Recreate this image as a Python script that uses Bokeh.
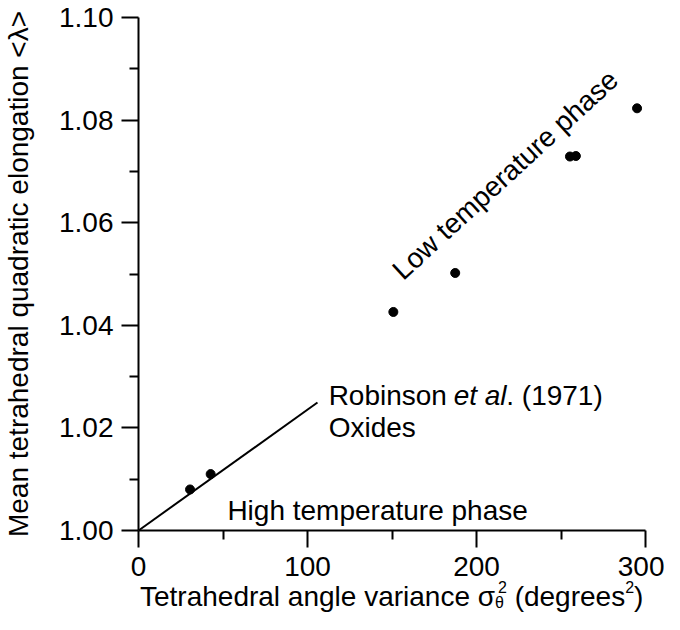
import math
from bokeh.plotting import figure
from bokeh.models import Label, Range1d, FixedTicker, NumeralTickFormatter, Div
from bokeh.layouts import column
from bokeh.embed import file_html
from bokeh.resources import INLINE

# ---- data ----
variance = [30.5, 42.7, 150.8, 187.4, 255.3, 258.8, 295.0]
elongation = [1.0080, 1.0110, 1.0426, 1.0502, 1.0729, 1.0730, 1.0823]

robinson_x = [0.0, 105.9]
robinson_y = [1.0, 1.02495]

x_ticks = [0, 100, 200, 300]
x_minor = [50, 150, 250]
y_ticks = [1.00, 1.02, 1.04, 1.06, 1.08, 1.10]
y_minor = [1.01, 1.03, 1.05, 1.07, 1.09]

y_title = "Mean tetrahedral quadratic elongation <\u03bb>"
x_title_main = "Tetrahedral angle variance \u03c3"
x_title_sub = "\u03b8"
x_title_sup = "2"
x_title_unit = "(degrees"

FONT = "Liberation Sans"
FS = "28px"

p = figure(width=664, height=590, x_range=Range1d(0, 300), y_range=Range1d(1.0, 1.1),
           output_backend="svg", toolbar_location=None,
           min_border_left=134, min_border_right=19, min_border_top=17, min_border_bottom=60)
p.outline_line_color = None
p.xgrid.grid_line_color = None
p.ygrid.grid_line_color = None
p.background_fill_color = "white"
p.border_fill_color = "white"

p.xaxis.ticker = FixedTicker(ticks=x_ticks, minor_ticks=x_minor)
p.yaxis.ticker = FixedTicker(ticks=y_ticks, minor_ticks=y_minor)
p.yaxis.formatter = NumeralTickFormatter(format="0.00")
for ax in (p.xaxis, p.yaxis):
    ax.axis_line_width = 2
    ax.axis_line_color = "black"
    ax.major_tick_line_width = 2
    ax.minor_tick_line_width = 2
    ax.major_tick_line_color = "black"
    ax.minor_tick_line_color = "black"
    ax.major_tick_out = 17
    ax.major_tick_in = 0
    ax.minor_tick_out = 9
    ax.minor_tick_in = 0
    ax.major_label_text_font = FONT
    ax.major_label_text_font_size = FS
    ax.major_label_text_color = "black"
p.xaxis.major_label_standoff = 9
p.yaxis.major_label_standoff = 8

p.yaxis.axis_label = y_title
p.yaxis.axis_label_text_font = FONT
p.yaxis.axis_label_text_font_size = FS
p.yaxis.axis_label_text_font_style = "normal"
p.yaxis.axis_label_text_color = "black"
p.yaxis.axis_label_standoff = 22

p.line(robinson_x, robinson_y, line_color="black", line_width=2)
p.scatter(variance, elongation, size=9, color="black")

def lab(x, y, text, style="normal", angle=0.0):
    p.add_layout(Label(x=x, y=y, text=text, text_font=FONT, text_font_size=FS,
                       text_font_style=style, text_color="black", angle=angle,
                       text_align="left", text_baseline="alphabetic"))

# annotations
lab(112.5, 1.02632, "Robinson ")
lab(112.5 + 126.0 / 1.703, 1.02632, "et al", style="italic")
lab(112.5 + 179.0 / 1.703, 1.02632, ". (1971)")
lab(112.5, 1.02008, "Oxides")
lab(52.6, 1.0039, "High temperature phase")
lab(152.8, 1.04996, "Low temperature phase", angle=math.radians(42.5))

sub = '<span style="font-size:16px;position:relative;top:2px;">%s</span>'
sup = '<span style="font-size:16px;position:relative;top:-13px;margin-left:%dpx;">%s</span>'
html = ('<div style="font-family:\'Liberation Sans\';font-size:28px;line-height:32px;'
        'color:black;white-space:nowrap;padding-left:140px;position:relative;top:-9px;">'
        + x_title_main + sub % x_title_sub + sup % (-6, x_title_sup)
        + " " + x_title_unit + sup % (0, "2") + ")</div>")
div = Div(text=html, width=664, height=24, margin=(0, 0, 0, 0))

layout = column(p, div, spacing=0)
open("out.html", "w").write(file_html(layout, INLINE))
